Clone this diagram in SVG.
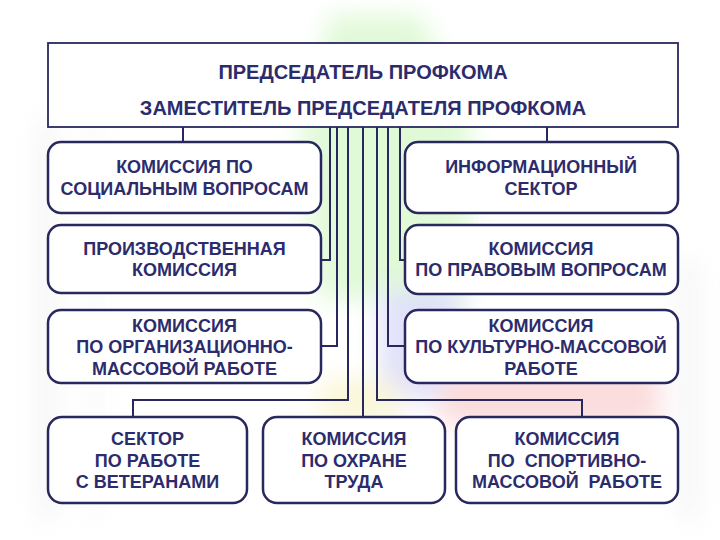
<svg xmlns="http://www.w3.org/2000/svg" width="720" height="540" viewBox="0 0 720 540">
<defs>
<filter id="blur" x="-20%" y="-20%" width="140%" height="140%"><feGaussianBlur stdDeviation="12"/></filter>
<style>
.box{fill:#ffffff;stroke:#28285e;stroke-width:2.5}
.top{fill:#ffffff;stroke:#28285e;stroke-width:1.8}
.t{font-family:"Liberation Sans",Arial,sans-serif;font-weight:bold;font-size:18px;fill:#2c2c6c;text-anchor:middle}
.tt{font-size:20px}
.c{fill:none;stroke:#28285e;stroke-width:2}
</style>
</defs>
<rect width="720" height="540" fill="#ffffff"/>
<g id="background" filter="url(#blur)" opacity="0.55">
<polygon points="330,15 420,15 470,120 470,300 320,300 300,140" fill="#c8f5b8"/>
<polygon points="380,290 460,290 470,400 380,400" fill="#c8c8f5"/>
<polygon points="440,370 660,370 660,425 440,425" fill="#f7c0c0"/>
<polygon points="320,380 400,380 400,420 320,420" fill="#f5efb8"/>
<rect x="38" y="120" width="18" height="400" fill="#ececec"/>
<rect x="88" y="120" width="12" height="400" fill="#f2f2f2"/>
<rect x="680" y="260" width="18" height="260" fill="#ececec"/>
</g>
<g id="connectors">
<line class="c" x1="183" y1="127" x2="183" y2="142"/>
<line class="c" x1="547" y1="127" x2="547" y2="142"/>
<polyline class="c" points="330,127 330,260 321,260"/>
<polyline class="c" points="337,127 337,346 321,346"/>
<polyline class="c" points="348,127 348,400 133,400 133,417"/>
<line class="c" x1="363" y1="127" x2="363" y2="417"/>
<polyline class="c" points="377,127 377,400 582,400 582,417"/>
<polyline class="c" points="388,127 388,346 405,346"/>
<polyline class="c" points="400,127 400,260 405,260"/>
</g>
<g id="chair">
<rect class="top" x="48" y="43" width="630" height="84"/>
<text class="t tt" x="363" y="79">ПРЕДСЕДАТЕЛЬ ПРОФКОМА</text>
<text class="t tt" x="363" y="115">ЗАМЕСТИТЕЛЬ ПРЕДСЕДАТЕЛЯ ПРОФКОМА</text>
</g>
<g id="social">
<rect class="box" x="48" y="142" width="273" height="71" rx="13"/>
<text class="t" x="184.5" y="173">КОМИССИЯ ПО</text>
<text class="t" x="184.5" y="195">СОЦИАЛЬНЫМ ВОПРОСАМ</text>
</g>
<g id="info">
<rect class="box" x="405" y="142" width="273" height="71" rx="13"/>
<text class="t" x="541" y="173">ИНФОРМАЦИОННЫЙ</text>
<text class="t" x="541" y="195">СЕКТОР</text>
</g>
<g id="production">
<rect class="box" x="48" y="225" width="273" height="68" rx="13"/>
<text class="t" x="184.5" y="255">ПРОИЗВОДСТВЕННАЯ</text>
<text class="t" x="184.5" y="276">КОМИССИЯ</text>
</g>
<g id="legal">
<rect class="box" x="405" y="225" width="273" height="69" rx="13"/>
<text class="t" x="541" y="255">КОМИССИЯ</text>
<text class="t" x="541" y="276">ПО ПРАВОВЫМ ВОПРОСАМ</text>
</g>
<g id="orgmass">
<rect class="box" x="48" y="310" width="273" height="73" rx="13"/>
<text class="t" x="184.5" y="332">КОМИССИЯ</text>
<text class="t" x="184.5" y="353">ПО ОРГАНИЗАЦИОННО-</text>
<text class="t" x="184.5" y="375">МАССОВОЙ РАБОТЕ</text>
</g>
<g id="culture">
<rect class="box" x="405" y="310" width="273" height="73" rx="13"/>
<text class="t" x="541" y="332">КОМИССИЯ</text>
<text class="t" x="541" y="353">ПО КУЛЬТУРНО-МАССОВОЙ</text>
<text class="t" x="541" y="375">РАБОТЕ</text>
</g>
<g id="veterans">
<rect class="box" x="48" y="417" width="199" height="86" rx="14"/>
<text class="t" x="147.5" y="445">СЕКТОР</text>
<text class="t" x="147.5" y="467">ПО РАБОТЕ</text>
<text class="t" x="147.5" y="488">С ВЕТЕРАНАМИ</text>
</g>
<g id="labour">
<rect class="box" x="263" y="417" width="182" height="86" rx="14"/>
<text class="t" x="354" y="445">КОМИССИЯ</text>
<text class="t" x="354" y="467">ПО ОХРАНЕ</text>
<text class="t" x="354" y="488">ТРУДА</text>
</g>
<g id="sport">
<rect class="box" x="456" y="417" width="222" height="86" rx="14"/>
<text class="t" x="567" y="445">КОМИССИЯ</text>
<text class="t" x="567" y="467" xml:space="preserve">ПО  СПОРТИВНО-</text>
<text class="t" x="567" y="488" xml:space="preserve">МАССОВОЙ  РАБОТЕ</text>
</g>
</svg>
